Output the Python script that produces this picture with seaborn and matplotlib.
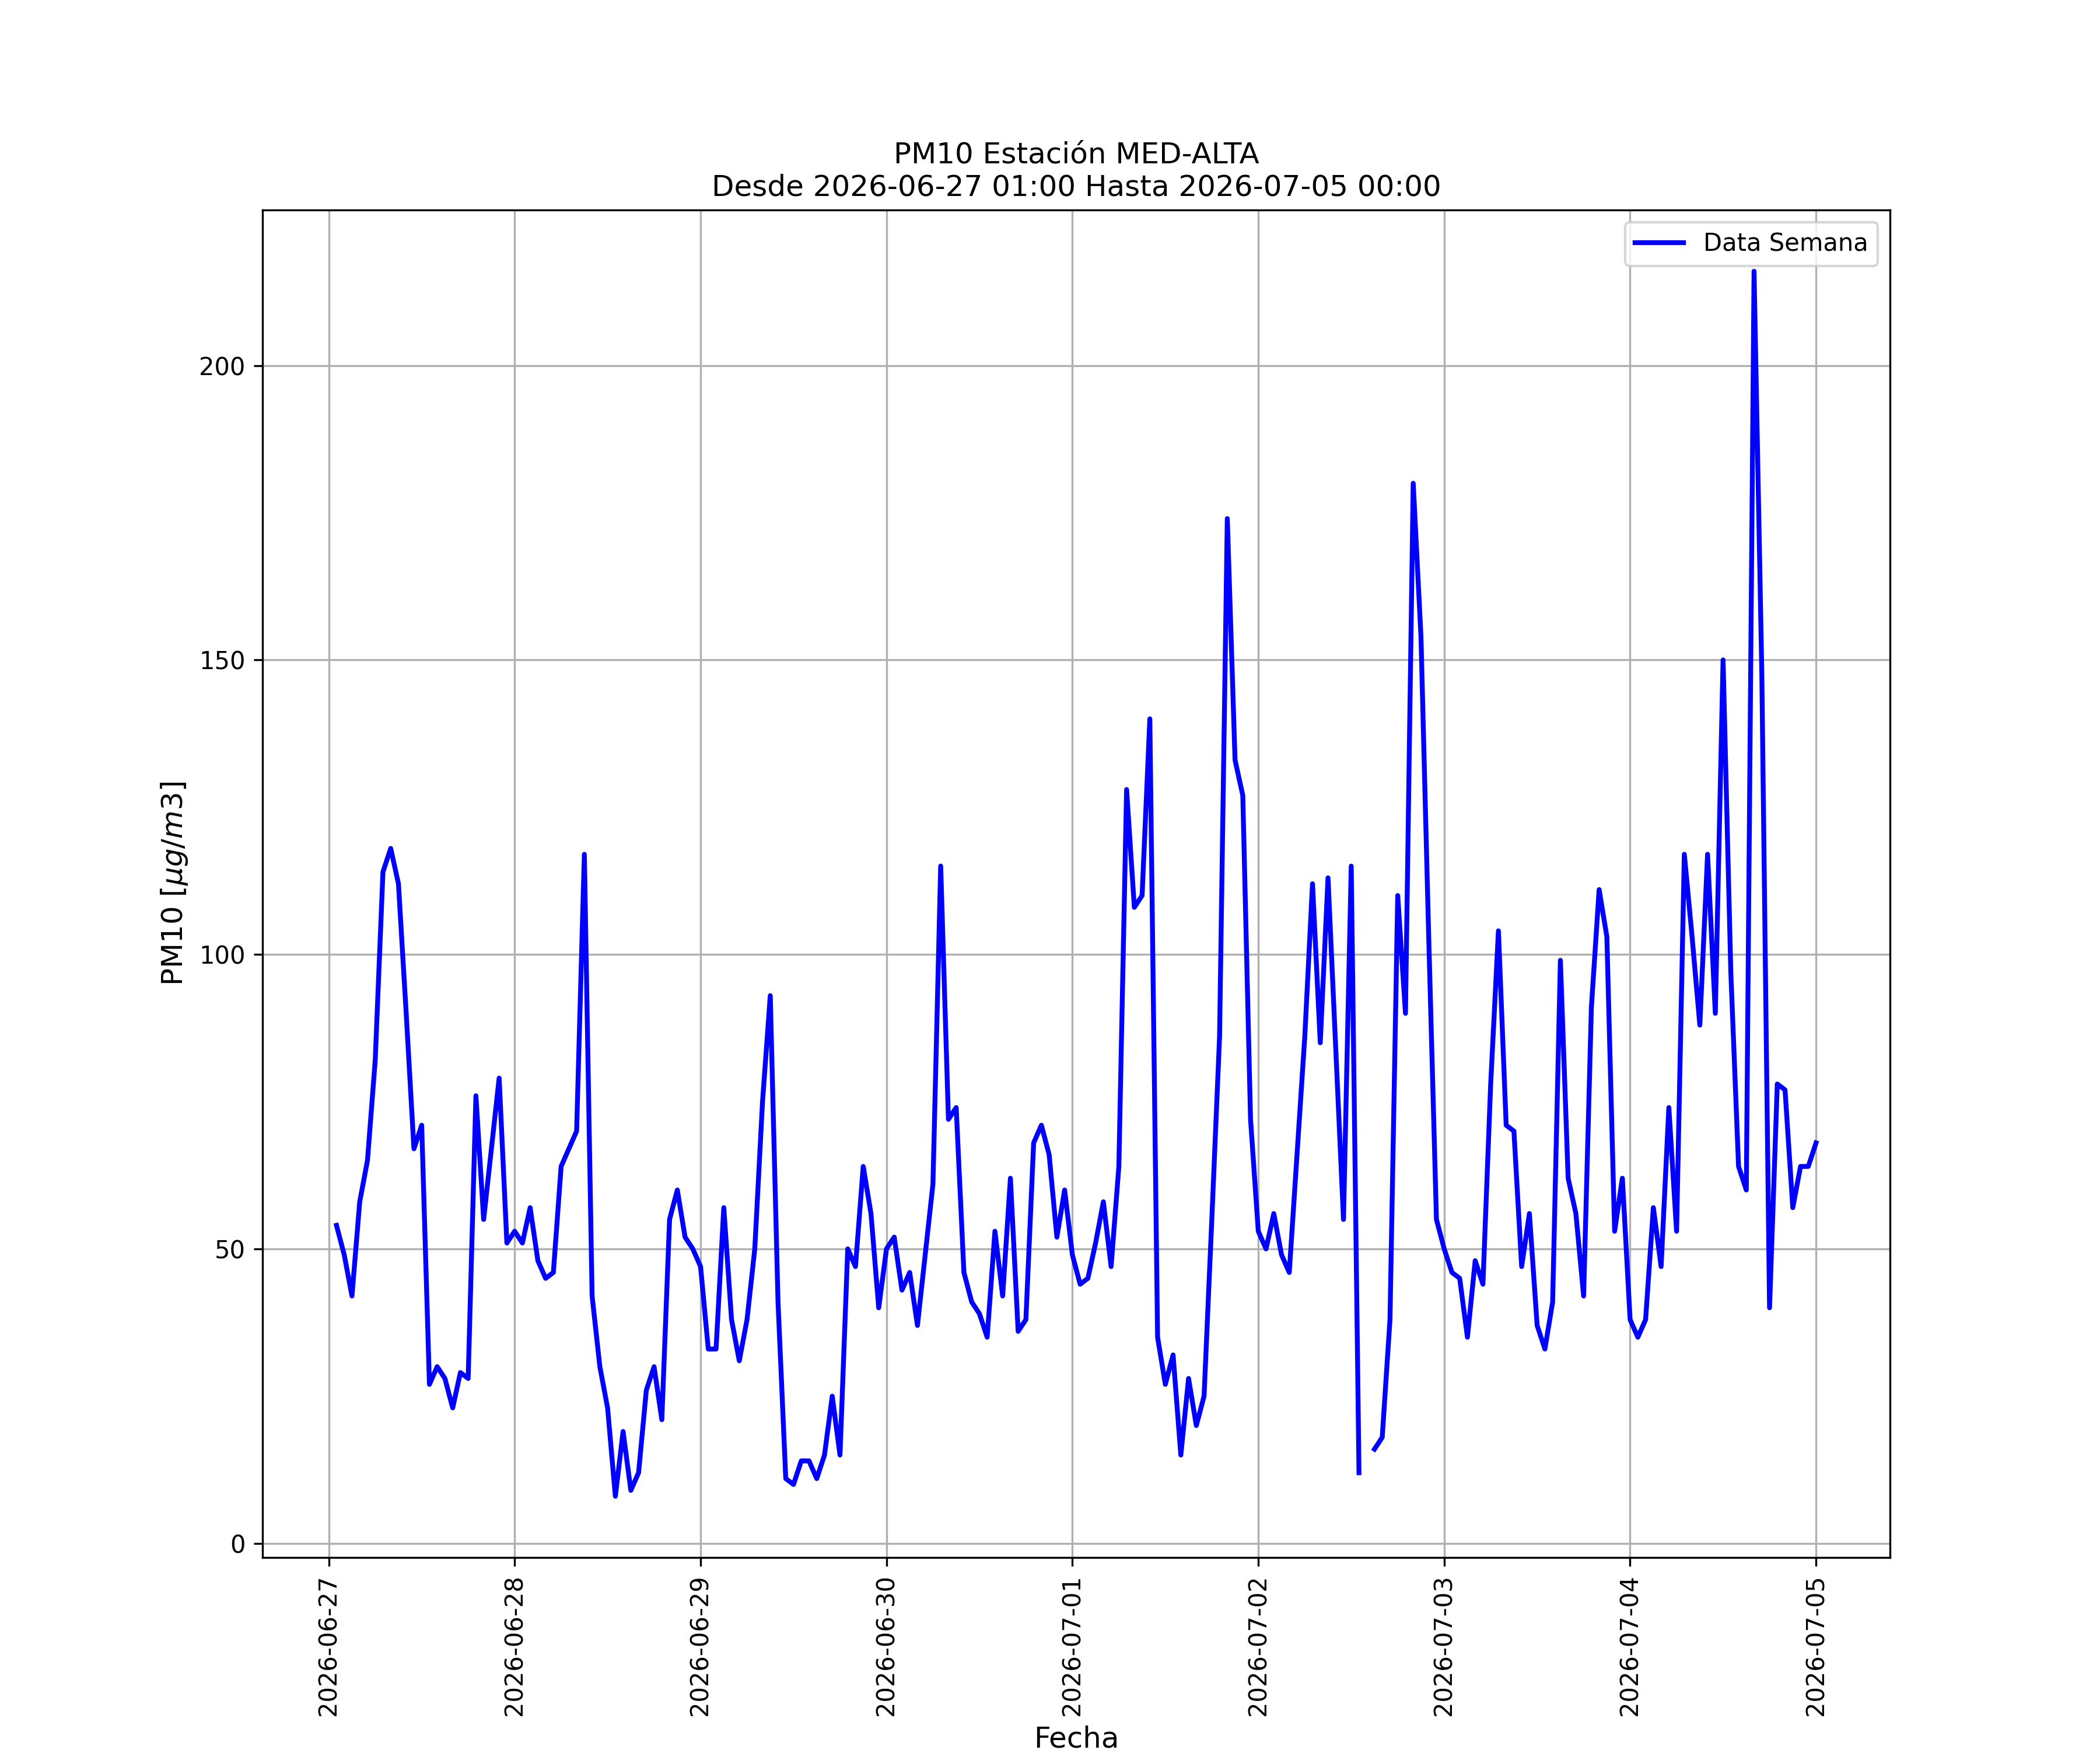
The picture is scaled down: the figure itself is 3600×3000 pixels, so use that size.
"""PM10 hourly series for station MED-ALTA over one week."""

import matplotlib

matplotlib.use("Agg")

import matplotlib.dates as mdates
import matplotlib.pyplot as plt
import numpy as np
import pandas as pd
import seaborn as sns

STATION = "MED-ALTA"
START = "2026-06-27 01:00"
END = "2026-07-05 00:00"

# hourly PM10 values, 01:00 .. 24:00 of each day (ug/m3)
DAY_0627 = [54, 49, 42, 58, 65, 82, 114, 118, 112, 90, 67, 71,
            27, 30, 28, 23, 29, 28, 76, 55, 67, 79, 51, 53]
DAY_0628 = [51, 57, 48, 45, 46, 64, 67, 70, 117, 42, 30, 23,
            8, 19, 9, 12, 26, 30, 21, 55, 60, 52, 50, 47]
DAY_0629 = [33, 33, 57, 38, 31, 38, 50, 75, 93, 41, 11, 10,
            14, 14, 11, 15, 25, 15, 50, 47, 64, 56, 40, 50]
DAY_0630 = [52, 43, 46, 37, 49, 61, 115, 72, 74, 46, 41, 39,
            35, 53, 42, 62, 36, 38, 68, 71, 66, 52, 60, 49]
DAY_0701 = [44, 45, 51, 58, 47, 64, 128, 108, 110, 140, 35, 27,
            32, 15, 28, 20, 25, 55, 86, 174, 133, 127, 72, 53]
DAY_0702 = [50, 56, 49, 46, 66, 86, 112, 85, 113, 84, 55, 115,
            12, np.nan, 16, 18, 38, 110, 90, 180, 154, 103, 55, 50]
DAY_0703 = [46, 45, 35, 48, 44, 78, 104, 71, 70, 47, 56, 37,
            33, 41, 99, 62, 56, 42, 91, 111, 103, 53, 62, 38]
DAY_0704 = [35, 38, 57, 47, 74, 53, 117, 103, 88, 117, 90, 150,
            97, 64, 60, 216, 148, 40, 78, 77, 57, 64, 64, 68]


def build_frame() -> pd.DataFrame:
    values = (DAY_0627 + DAY_0628 + DAY_0629 + DAY_0630
              + DAY_0701 + DAY_0702 + DAY_0703 + DAY_0704)
    df = pd.DataFrame({
        "fecha": pd.date_range(START, END, freq="h"),
        "pm10": values,
    })
    # split at missing hours so the line shows a gap
    df["tramo"] = df["pm10"].isna().cumsum()
    return df


def main() -> None:
    df = build_frame()

    fig, ax = plt.subplots(figsize=(12, 10))
    sns.lineplot(
        data=df,
        x="fecha",
        y="pm10",
        units="tramo",
        estimator=None,
        color="blue",
        linewidth=2,
        label="Data Semana",
        ax=ax,
    )

    ax.set_title(f"PM10 Estación {STATION}\nDesde {START} Hasta {END}",
                 fontsize=12)
    ax.set_xlabel("Fecha", fontsize=12)
    ax.set_ylabel(r"PM10 [$\mu g/m3$]", fontsize=12)
    ax.xaxis.set_major_locator(mdates.DayLocator())
    ax.xaxis.set_major_formatter(mdates.DateFormatter("%Y-%m-%d"))
    plt.setp(ax.get_xticklabels(), rotation=90)
    ax.grid(True)

    handles, labels = ax.get_legend_handles_labels()
    ax.legend(handles[:1], labels[:1], loc="upper right")

    fig.savefig("out.png", dpi=300)
    plt.close(fig)


if __name__ == "__main__":
    main()
